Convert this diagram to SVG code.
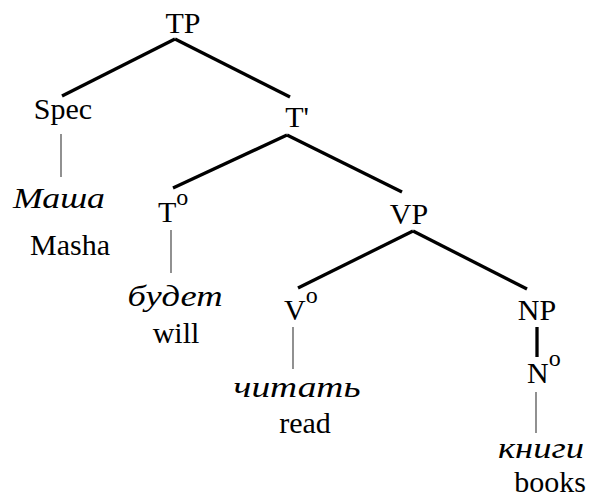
<svg xmlns="http://www.w3.org/2000/svg" width="590" height="499" viewBox="0 0 590 499">
  <defs>
    <style>
      text { fill: #000; }
      .c { text-anchor: middle; }
      .s { text-anchor: start; }
      .sup { font-size: 24px; }
      .ru { font-style: italic; }
      .branch { stroke: #000; stroke-width: 3.3; fill: none; }
      .leaf { stroke: #555; stroke-width: 1.3; fill: none; }
    </style>
  </defs>
  <rect width="590" height="499" fill="#fff"/>

  <!-- tree branches (bold) and lexical stems (thin) -->
  <g id="connectors">
    <line class="branch" x1="175" y1="39" x2="62" y2="96"/>
    <line class="branch" x1="175" y1="39" x2="290" y2="97"/>
    <line class="branch" x1="287" y1="135" x2="173" y2="188"/>
    <line class="branch" x1="287" y1="135" x2="402" y2="192"/>
    <line class="branch" x1="413" y1="231" x2="298" y2="288"/>
    <line class="branch" x1="413" y1="231" x2="527" y2="289"/>
    <line class="branch" x1="537" y1="327" x2="537" y2="357"/>
    <line class="leaf" x1="61" y1="134" x2="61" y2="177"/>
    <line class="leaf" x1="171" y1="230" x2="171" y2="273"/>
    <line class="leaf" x1="293" y1="327" x2="293" y2="369"/>
    <line class="leaf" x1="536" y1="392" x2="536" y2="433"/>
  </g>

  <g font-family="Liberation Serif, Times New Roman, serif" font-size="30">
    <g id="TP"><text class="c" x="183" y="33">TP</text></g>
    <g id="Spec"><text class="c" x="63" y="119">Spec</text></g>
    <g id="Tbar"><text class="c" x="297" y="127">T'</text></g>
    <g id="T0"><text class="s" x="158" y="222">T<tspan class="sup" dy="-17">o</tspan></text></g>
    <g id="VP"><text class="c" x="409" y="224">VP</text></g>
    <g id="V0"><text class="s" x="284" y="320">V<tspan class="sup" dy="-17">o</tspan></text></g>
    <g id="NP"><text class="c" x="537" y="320">NP</text></g>
    <g id="N0"><text class="s" x="527" y="383">N<tspan class="sup" dy="-17">o</tspan></text></g>

    <g id="masha">
      <text class="c ru" x="59" y="208" textLength="92" lengthAdjust="spacingAndGlyphs">Маша</text>
      <text class="c" x="70" y="255">Masha</text>
    </g>
    <g id="budet">
      <text class="c ru" x="175" y="306" textLength="95" lengthAdjust="spacingAndGlyphs">будет</text>
      <text class="c" x="176" y="343">will</text>
    </g>
    <g id="chitat">
      <text class="c ru" x="297" y="397" textLength="127" lengthAdjust="spacingAndGlyphs">читать</text>
      <text class="c" x="305" y="433">read</text>
    </g>
    <g id="knigi">
      <text class="c ru" x="541" y="458" textLength="86" lengthAdjust="spacingAndGlyphs">книги</text>
      <text class="c" x="550" y="492">books</text>
    </g>
  </g>
</svg>
